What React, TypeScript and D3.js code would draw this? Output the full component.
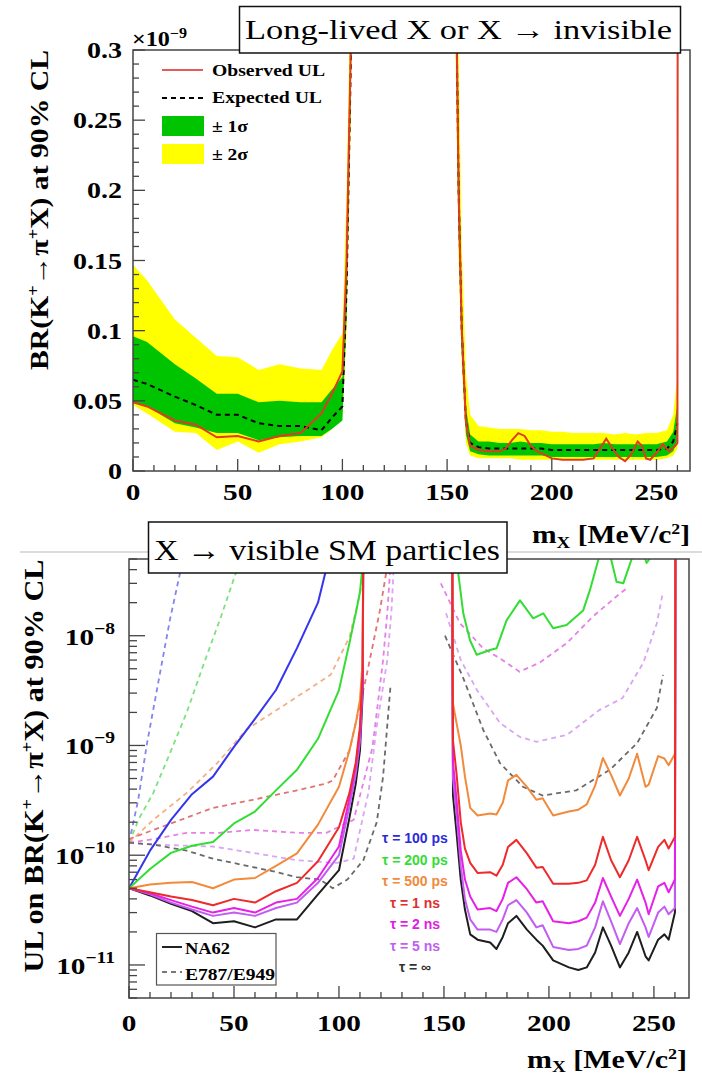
import React from 'react';
import * as d3 from 'd3';

// ================= TOP PANEL DATA (BR in units of 1e-9) =================
const topMassLeft = [0, 6.7, 20, 30, 40, 50, 60, 70, 80, 90, 95, 100, 102, 104, 106];
const yellowHiLeft = [0.147, 0.136, 0.108, 0.095, 0.082, 0.081, 0.072, 0.076, 0.073, 0.072, 0.086, 0.098, 0.2, 0.36, 0.8];
const greenHiLeft = [0.096, 0.092, 0.076, 0.066, 0.055, 0.055, 0.049, 0.05, 0.049, 0.049, 0.058, 0.067, 0.16, 0.31, 0.7];
const expectedLeft = [0.065, 0.062, 0.053, 0.047, 0.04, 0.04, 0.034, 0.032, 0.032, 0.029, 0.038, 0.046, 0.13, 0.29, 0.6];
const greenLoLeft = [0.049, 0.046, 0.034, 0.031, 0.027, 0.027, 0.022, 0.024, 0.025, 0.025, 0.03, 0.036, 0.11, 0.27, 0.55];
const yellowLoLeft = [0.047, 0.041, 0.028, 0.027, 0.015, 0.021, 0.013, 0.019, 0.021, 0.024, 0.03, 0.039, 0.1, 0.25, 0.5];
const observedLeft = [0.049, 0.046, 0.036, 0.033, 0.024, 0.025, 0.021, 0.025, 0.027, 0.041, 0.055, 0.071, 0.15, 0.3, 0.7];

const topMassRight = [154, 155.5, 157, 159, 161, 165, 170, 175, 180, 185, 190, 195, 200, 205, 210, 215, 220, 225, 230, 235, 240, 245, 250, 255, 258, 260];
const yellowHiRight = [0.5, 0.3, 0.16, 0.07, 0.04, 0.032, 0.031, 0.03, 0.03, 0.03, 0.029, 0.029, 0.028, 0.028, 0.027, 0.027, 0.027, 0.027, 0.026, 0.027, 0.026, 0.027, 0.027, 0.029, 0.04, 0.068];
const greenHiRight = [0.42, 0.24, 0.12, 0.045, 0.026, 0.021, 0.021, 0.02, 0.02, 0.021, 0.02, 0.02, 0.019, 0.019, 0.019, 0.019, 0.019, 0.02, 0.019, 0.019, 0.019, 0.019, 0.019, 0.021, 0.028, 0.048];
const expectedRight = [0.38, 0.2, 0.1, 0.035, 0.02, 0.017, 0.016, 0.016, 0.016, 0.016, 0.016, 0.016, 0.015, 0.015, 0.015, 0.015, 0.015, 0.015, 0.015, 0.015, 0.015, 0.015, 0.015, 0.016, 0.021, 0.034];
const greenLoRight = [0.34, 0.17, 0.085, 0.026, 0.014, 0.012, 0.011, 0.011, 0.011, 0.011, 0.011, 0.011, 0.01, 0.01, 0.01, 0.01, 0.01, 0.01, 0.01, 0.01, 0.01, 0.01, 0.01, 0.011, 0.014, 0.022];
const yellowLoRight = [0.3, 0.15, 0.075, 0.02, 0.011, 0.009, 0.009, 0.009, 0.009, 0.008, 0.008, 0.008, 0.008, 0.008, 0.008, 0.008, 0.008, 0.008, 0.008, 0.008, 0.008, 0.008, 0.008, 0.009, 0.011, 0.016];

const obsMassRight = [154, 155.5, 157, 159, 161, 165, 170, 175, 178, 181, 184, 187, 190, 193, 196, 200, 205, 210, 215, 220, 223, 226, 229, 232, 235, 238, 241, 243, 245, 247, 250, 253, 256, 259, 260, 260.2];
const observedRight = [0.38, 0.2, 0.1, 0.035, 0.018, 0.015, 0.014, 0.014, 0.016, 0.022, 0.027, 0.025, 0.018, 0.014, 0.012, 0.009, 0.008, 0.008, 0.008, 0.009, 0.016, 0.023, 0.016, 0.01, 0.007, 0.012, 0.021, 0.018, 0.009, 0.008, 0.013, 0.019, 0.014, 0.018, 0.02, 0.6];

const topXTicks = [0, 50, 100, 150, 200, 250];
const topYTicks = [0, 0.05, 0.1, 0.15, 0.2, 0.25, 0.3];
const topYLabels = ['0', '0.05', '0.1', '0.15', '0.2', '0.25', '0.3'];

// ================= BOTTOM PANEL DATA (UL on BR) =================
const solidMassLeft = [0, 10, 20, 30, 40, 50, 60, 70, 80, 90, 100, 105, 108, 110, 111.3, 111.8];
const tau100Left = [5e-11, 1.1e-10, 2.1e-10, 3.6e-10, 5.2e-10, 9.7e-10, 1.75e-9, 3.2e-9, 7.7e-9, 2.0e-8, 1.2e-7, 1e-6, 1e-6, 1e-6, 1e-6, 1e-6];
const tau200Left = [5e-11, 7.5e-11, 1.05e-10, 1.22e-10, 1.32e-10, 1.95e-10, 2.5e-10, 3.9e-10, 6.0e-10, 1.15e-9, 3.2e-9, 8.6e-9, 1.6e-8, 2.5e-8, 4.5e-8, 1e-6];
const tau500Left = [5e-11, 5.4e-11, 5.6e-11, 5.7e-11, 5.0e-11, 6.0e-11, 6.2e-11, 8.0e-11, 1.04e-10, 1.9e-10, 4.2e-10, 9e-10, 1.6e-9, 2.6e-9, 6e-9, 1e-6];
const tau1nsLeft = [5e-11, 4.6e-11, 4.2e-11, 3.9e-11, 3.5e-11, 4.0e-11, 3.7e-11, 4.7e-11, 5.6e-11, 8.8e-11, 1.8e-10, 3.7e-10, 7e-10, 1.5e-9, 5e-9, 1e-6];
const tau2nsLeft = [5e-11, 4.5e-11, 3.9e-11, 3.4e-11, 3.0e-11, 3.3e-11, 3.0e-11, 3.7e-11, 4.0e-11, 6.2e-11, 1.2e-10, 3.3e-10, 6.5e-10, 1.3e-9, 4e-9, 1e-6];
const tau5nsLeft = [5e-11, 4.4e-11, 3.7e-11, 3.2e-11, 2.8e-11, 3.0e-11, 2.8e-11, 3.3e-11, 3.7e-11, 5.6e-11, 1.0e-10, 2.8e-10, 5.5e-10, 1.1e-9, 3.5e-9, 1e-6];
const tauInfLeft = [5e-11, 4.3e-11, 3.6e-11, 3.1e-11, 2.4e-11, 2.5e-11, 2.2e-11, 2.6e-11, 2.6e-11, 4.4e-11, 7.3e-11, 2.2e-10, 4.5e-10, 9e-10, 3e-9, 1e-6];

const solidMassRight = [153.7, 154.3, 156, 158, 160, 162.5, 166, 172, 175, 178, 180.5, 184.5, 189.5, 194, 197, 202, 209.5, 214, 218, 222, 225.7, 229.6, 233.8, 238, 242, 246, 247.5, 252, 255, 257, 260, 260.3];
const tau500Right = [1e-6, 2.4e-9, 1.6e-9, 1.0e-9, 5.2e-10, 2.7e-10, 2.3e-10, 2.4e-10, 2.35e-10, 3.0e-10, 4.8e-10, 5.4e-10, 4.2e-10, 3.2e-10, 3.3e-10, 2.3e-10, 2.5e-10, 2.6e-10, 2.9e-10, 4.3e-10, 7.7e-10, 5.4e-10, 3.5e-10, 5.0e-10, 8.4e-10, 4.2e-10, 4.4e-10, 8.0e-10, 7.6e-10, 6.6e-10, 8.4e-10, 1e-6];
const tau1nsRight = [1e-6, 1.1e-9, 5.5e-10, 2.0e-10, 1.15e-10, 8.5e-11, 6.9e-11, 7.0e-11, 6.5e-11, 8.2e-11, 1.19e-10, 1.38e-10, 1.04e-10, 7.7e-11, 7.8e-11, 5.5e-11, 5.5e-11, 5.6e-11, 5.9e-11, 8.2e-11, 1.47e-10, 9.0e-11, 6.3e-11, 9.0e-11, 1.47e-10, 9.0e-11, 7.3e-11, 1.19e-10, 1.38e-10, 1.15e-10, 1.47e-10, 1e-6];
const tau2nsRight = [1e-6, 7e-10, 3.2e-10, 1.1e-10, 6e-11, 4.2e-11, 3.2e-11, 3.3e-11, 3.1e-11, 4.0e-11, 5.6e-11, 6.3e-11, 4.9e-11, 3.7e-11, 3.8e-11, 2.5e-11, 2.4e-11, 2.5e-11, 2.7e-11, 3.7e-11, 6.2e-11, 4.2e-11, 2.8e-11, 4.0e-11, 6.0e-11, 3.7e-11, 2.9e-11, 5.2e-11, 5.6e-11, 4.6e-11, 6.0e-11, 1e-6];
const tau5nsRight = [1e-6, 5e-10, 2.4e-10, 8e-11, 4e-11, 2.6e-11, 2.1e-11, 2.1e-11, 2.0e-11, 2.6e-11, 3.5e-11, 3.9e-11, 3.0e-11, 2.2e-11, 2.3e-11, 1.46e-11, 1.37e-11, 1.4e-11, 1.5e-11, 2.2e-11, 3.8e-11, 2.5e-11, 1.55e-11, 2.4e-11, 3.3e-11, 2.2e-11, 1.8e-11, 3.0e-11, 3.4e-11, 2.9e-11, 3.3e-11, 1e-6];
const tauInfRight = [1e-6, 3.5e-10, 1.6e-10, 6e-11, 3.2e-11, 1.9e-11, 1.7e-11, 1.6e-11, 1.4e-11, 1.8e-11, 2.4e-11, 2.8e-11, 2.1e-11, 1.7e-11, 1.5e-11, 1.1e-11, 9.5e-12, 9e-12, 9.5e-12, 1.3e-11, 2.2e-11, 1.5e-11, 9.5e-12, 1.3e-11, 2.0e-11, 1.2e-11, 1.1e-11, 1.7e-11, 1.9e-11, 1.7e-11, 3.0e-11, 1e-6];
const tau200MassRight = [154.5, 156, 159.2, 162.4, 165.6, 171.9, 175.1, 179.8, 186.2, 192.5, 197.3, 202, 208.4, 216.3, 219.5, 223.5, 227, 232.2, 235.4, 239.4, 242.5, 246.5, 248.5, 252];
const tau200Right = [1e-6, 4.9e-8, 1.6e-8, 9.1e-9, 6.7e-9, 7.4e-9, 7.7e-9, 1.38e-8, 2.1e-8, 1.44e-8, 1.6e-8, 1.17e-8, 1.25e-8, 1.7e-8, 2.6e-8, 4.9e-8, 8e-8, 3.1e-8, 3.0e-8, 5e-8, 8e-8, 4.6e-8, 5.2e-8, 1e-7];

const e949Tau100Mass = [0, 4.4, 8.4, 13, 19.5, 25, 28];
const e949Tau100 = [1.3e-10, 3.2e-10, 1.0e-9, 3.0e-9, 1.4e-8, 4.3e-8, 8e-8];
const e949Tau200Mass = [0, 5, 11.6, 19.5, 27.5, 35.4, 43.3, 52, 55];
const e949Tau200 = [1.3e-10, 2.2e-10, 3.7e-10, 8.5e-10, 2.0e-9, 5.4e-9, 1.4e-8, 4.3e-8, 7e-8];
const e949Tau500Mass = [0, 11.6, 27.5, 42, 56, 75, 96, 105, 110, 114];
const e949Tau500 = [1.3e-10, 2.1e-10, 3.7e-10, 6.9e-10, 1.4e-9, 2.4e-9, 4.4e-9, 9.7e-9, 2.4e-8, 7e-8];
const e949Tau1nsMass = [0, 11.6, 27.5, 40, 59, 80, 94, 97, 105, 113, 119.5, 123, 125];
const e949Tau1ns = [1.4e-10, 1.7e-10, 2.2e-10, 2.7e-10, 3.2e-10, 3.9e-10, 4.5e-10, 4.8e-10, 9e-10, 4.2e-9, 1.7e-8, 4.3e-8, 7e-8];
const e949Tau2nsMassLeft = [0, 11.6, 27.5, 43, 59, 80, 94, 107, 116, 121, 123, 125];
const e949Tau2nsLeft = [1.3e-10, 1.4e-10, 1.6e-10, 1.6e-10, 1.7e-10, 1.6e-10, 1.6e-10, 2.1e-10, 9.7e-10, 6e-9, 1.6e-8, 6e-8];
const e949Tau2nsMassRight = [148.5, 157.6, 168.6, 176.7, 186, 195.7, 208.6, 221, 232.4, 237];
const e949Tau2nsRight = [3e-8, 1.3e-8, 7.7e-9, 6.2e-9, 4.7e-9, 5.7e-9, 8.6e-9, 1.5e-8, 2.3e-8, 2.7e-8];
const e949Tau5nsMassLeft = [0, 11.6, 40, 59, 80, 99, 107, 114, 118, 123, 125, 126.5];
const e949Tau5nsLeft = [1.3e-10, 1.25e-10, 1.2e-10, 1.05e-10, 9e-11, 8.5e-11, 9.3e-11, 3.7e-10, 1.5e-9, 6e-9, 1.7e-8, 6e-8];
const e949Tau5nsMassRight = [151, 158, 165.7, 176.7, 186, 194, 208.6, 224, 235, 245, 251.4, 254.3];
const e949Tau5nsRight = [1.6e-8, 6e-9, 3.2e-9, 1.6e-9, 1.2e-9, 1.08e-9, 1.25e-9, 2.1e-9, 2.7e-9, 5.7e-9, 1.3e-8, 2.5e-8];
const e949TauInfMassLeft = [0, 11.6, 27.5, 40, 59, 70.5, 80, 91, 97, 104, 111.6, 118, 121, 124.5];
const e949TauInfLeft = [1.3e-10, 1.25e-10, 1.1e-10, 9.3e-11, 7.8e-11, 7e-11, 6.3e-11, 6e-11, 5e-11, 6e-11, 9e-11, 2e-10, 5.2e-10, 3.4e-9];
const e949TauInfMassRight = [150.5, 159, 168.6, 176.7, 187.6, 197, 213, 229, 242, 251.4, 254.3];
const e949TauInfRight = [1e-8, 4.2e-9, 1.4e-9, 6.9e-10, 4.2e-10, 3.5e-10, 3.9e-10, 6e-10, 1.05e-9, 2.2e-9, 4.4e-9];

const botXTicks = [0, 50, 100, 150, 200, 250];
const botYDecades = [-11, -10, -9, -8];
const tauLabels = ['τ = 100 ps', 'τ = 200 ps', 'τ = 500 ps', 'τ = 1 ns', 'τ = 2 ns', 'τ = 5 ns', 'τ = ∞'];

const C = {
  blue: '#3535ee', green: '#33dd33', orange: '#f28a3c', red: '#ee2a2a',
  magenta: '#e620e6', violet: '#c35cf2', black: '#1e1e1e',
  dBlue: '#8585ee', dGreen: '#80e080', dOrange: '#f3b088', dRed: '#e27373',
  dMagenta: '#e680e6', dViolet: '#d8a6f2', dBlack: '#6a6a6a',
};
const tauColors = ['#2b2bd9', '#33dd33', '#f08a3c', '#e03030', '#e020e0', '#c060f0', '#333333'];

const SERIF_B = "'Liberation Serif', 'Times New Roman', serif";
const TIMES = "'Liberation Serif', 'Times New Roman', serif";
const SANS = "'Liberation Sans', Arial, sans-serif";

function Lbl(props: { x: number; y: number; anchor: string; size: number; children: any }) {
  return (
    <text transform={`translate(${props.x},${props.y}) scale(1.22,1)`} textAnchor={props.anchor}
      fontFamily={SERIF_B} fontWeight="bold" fontSize={props.size}>{props.children}</text>
  );
}

export default function App() {
  const xT = d3.scaleLinear().domain([0, 266]).range([133, 690]);
  const yT = d3.scaleLinear().domain([0, 0.3]).range([471, 50]);
  const xB = d3.scaleLinear().domain([0, 266.7]).range([129, 689]);
  const yB = d3.scaleLog().domain([5e-12, 5e-8]).range([998, 559]);

  const lineT = (ms: number[], vs: number[]) =>
    d3.line<[number, number]>().x(d => xT(d[0])).y(d => yT(d[1]))(d3.zip(ms, vs) as any) || '';
  const areaT = (ms: number[], lo: number[], hi: number[]) =>
    d3.area<any>().x(d => xT(d[0])).y0(d => yT(d[1])).y1(d => yT(d[2]))(d3.zip(ms, lo, hi) as any) || '';
  const lineB = (ms: number[], vs: number[]) =>
    d3.line<[number, number]>().x(d => xB(d[0])).y(d => yB(d[1]))(d3.zip(ms, vs) as any) || '';

  const tT = { l: 133, r: 690, t: 50, b: 471 };
  const tB = { l: 129, r: 689, t: 559, b: 998 };

  const topMinorX = d3.range(0, 261, 10);
  const topMinorY = d3.range(0, 0.3001, 0.01);
  const botMinorX = d3.range(0, 261, 10);
  const botLogTicks = yB.ticks();

  const dashed = [
    { m: e949Tau100Mass, v: e949Tau100, c: C.dBlue },
    { m: e949Tau200Mass, v: e949Tau200, c: C.dGreen },
    { m: e949Tau500Mass, v: e949Tau500, c: C.dOrange },
    { m: e949Tau1nsMass, v: e949Tau1ns, c: C.dRed },
    { m: e949Tau2nsMassLeft, v: e949Tau2nsLeft, c: C.dMagenta },
    { m: e949Tau2nsMassRight, v: e949Tau2nsRight, c: C.dMagenta },
    { m: e949Tau5nsMassLeft, v: e949Tau5nsLeft, c: C.dViolet },
    { m: e949Tau5nsMassRight, v: e949Tau5nsRight, c: C.dViolet },
    { m: e949TauInfMassLeft, v: e949TauInfLeft, c: C.dBlack },
    { m: e949TauInfMassRight, v: e949TauInfRight, c: C.dBlack },
  ];
  const solids = [
    { m: solidMassLeft, v: tauInfLeft, c: C.black },
    { m: solidMassRight, v: tauInfRight, c: C.black },
    { m: solidMassLeft, v: tau5nsLeft, c: C.violet },
    { m: solidMassRight, v: tau5nsRight, c: C.violet },
    { m: solidMassLeft, v: tau2nsLeft, c: C.magenta },
    { m: solidMassRight, v: tau2nsRight, c: C.magenta },
    { m: solidMassLeft, v: tau100Left, c: C.blue },
    { m: solidMassLeft, v: tau200Left, c: C.green },
    { m: tau200MassRight, v: tau200Right, c: C.green },
    { m: solidMassLeft, v: tau500Left, c: C.orange },
    { m: solidMassRight, v: tau500Right, c: C.orange },
    { m: solidMassLeft, v: tau1nsLeft, c: C.red },
    { m: solidMassRight, v: tau1nsRight, c: C.red },
  ];

  const frame = '#444';

  return (
    <svg width={702} height={1077} style={{ position: 'absolute', left: 0, top: 0, background: '#fff' }}>
      <defs>
        <clipPath id="clipTop"><rect x={tT.l} y={tT.t} width={tT.r - tT.l} height={tT.b - tT.t} /></clipPath>
        <clipPath id="clipBot"><rect x={tB.l} y={tB.t} width={tB.r - tB.l} height={tB.b - tB.t} /></clipPath>
      </defs>
      <rect x={0} y={0} width={702} height={1077} fill="#fff" />

      {/* ================= TOP PANEL ================= */}
      <g clipPath="url(#clipTop)">
        <path d={areaT(topMassLeft, yellowLoLeft, yellowHiLeft)} fill="#ffff00" />
        <path d={areaT(topMassRight, yellowLoRight, yellowHiRight)} fill="#ffff00" />
        <path d={areaT(topMassLeft, greenLoLeft, greenHiLeft)} fill="#00c400" />
        <path d={areaT(topMassRight, greenLoRight, greenHiRight)} fill="#00c400" />
        <path d={lineT(topMassLeft, expectedLeft)} fill="none" stroke="#000" strokeWidth={2} strokeDasharray="5 4" />
        <path d={lineT(topMassRight, expectedRight)} fill="none" stroke="#000" strokeWidth={2} strokeDasharray="5 4" />
        <path d={lineT(topMassLeft, observedLeft)} fill="none" stroke="#e23a26" strokeWidth={2} />
        <path d={lineT(obsMassRight, observedRight)} fill="none" stroke="#e23a26" strokeWidth={2} />
      </g>
      <rect x={tT.l} y={tT.t} width={tT.r - tT.l} height={tT.b - tT.t} fill="none" stroke={frame} strokeWidth={1.5} />
      {topMinorX.map(v => (
        <line key={'tmx' + v} x1={xT(v)} x2={xT(v)} y1={tT.b} y2={tT.b - (v % 50 === 0 ? 12 : 6)} stroke={frame} strokeWidth={1.3} />
      ))}
      {topMinorY.map((v, i) => (
        <line key={'tmy' + i} x1={tT.l} x2={tT.l + (i % 5 === 0 ? 12 : 6)} y1={yT(v)} y2={yT(v)} stroke={frame} strokeWidth={1.3} />
      ))}
      {topXTicks.map(v => (
        <Lbl key={'txl' + v} x={xT(v)} y={500} anchor="middle" size={24}>{v}</Lbl>
      ))}
      {topYTicks.map((v, i) => (
        <Lbl key={'tyl' + v} x={122} y={yT(v) + 8} anchor="end" size={23}>{topYLabels[i]}</Lbl>
      ))}
      <text transform="translate(132,46) scale(1.15,1)" fontFamily={SERIF_B} fontWeight="bold" fontSize={21}>
        ×10<tspan dy={-8} fontSize={14}>−9</tspan>
      </text>
      <text transform="translate(48,210) rotate(-90)" textAnchor="middle" fontFamily={SERIF_B} fontWeight="bold" fontSize={26} textLength={320} lengthAdjust="spacingAndGlyphs">
        BR(K<tspan dy={-9} fontSize={16}>+</tspan><tspan dy={9}>→π</tspan><tspan dy={-9} fontSize={16}>+</tspan><tspan dy={9}>X) at 90% CL</tspan>
      </text>
      <text x={532} y={543} fontFamily={SERIF_B} fontWeight="bold" fontSize={25} textLength={158} lengthAdjust="spacingAndGlyphs">
        m<tspan dy={5} fontSize={16}>X</tspan><tspan dy={-5}> [MeV/c</tspan><tspan dy={-9} fontSize={15}>2</tspan><tspan dy={9}>]</tspan>
      </text>
      <rect x={239.5} y={6.5} width={441} height={46.5} fill="#fff" stroke="#111" strokeWidth={1.5} />
      <text x={245} y={39} fontFamily={TIMES} fontSize={27} textLength={427} lengthAdjust="spacingAndGlyphs">Long-lived X or X → invisible</text>
      <line x1={162} x2={203} y1={70} y2={70} stroke="#e85a5a" strokeWidth={2} />
      <text x={212} y={76} fontFamily={SERIF_B} fontWeight="bold" fontSize={16} textLength={113} lengthAdjust="spacingAndGlyphs">Observed UL</text>
      <line x1={162} x2={203} y1={98} y2={98} stroke="#000" strokeWidth={2} strokeDasharray="5 4" />
      <text x={212} y={103} fontFamily={SERIF_B} fontWeight="bold" fontSize={16} textLength={110} lengthAdjust="spacingAndGlyphs">Expected UL</text>
      <rect x={162} y={116} width={42} height={20} fill="#00c400" />
      <text x={212} y={132} fontFamily={SERIF_B} fontWeight="bold" fontSize={16} textLength={36} lengthAdjust="spacingAndGlyphs">± 1σ</text>
      <rect x={162} y={144} width={42} height={20} fill="#ffff00" />
      <text x={212} y={160} fontFamily={SERIF_B} fontWeight="bold" fontSize={16} textLength={36} lengthAdjust="spacingAndGlyphs">± 2σ</text>

      <line x1={20} x2={702} y1={552} y2={552} stroke="#cfcfcf" strokeWidth={1.5} />

      {/* ================= BOTTOM PANEL ================= */}
      <g clipPath="url(#clipBot)">
        {dashed.map((s, i) => (
          <path key={'d' + i} d={lineB(s.m, s.v)} fill="none" stroke={s.c} strokeWidth={1.8} strokeDasharray="5 4" />
        ))}
        {solids.map((s, i) => (
          <path key={'s' + i} d={lineB(s.m, s.v)} fill="none" stroke={s.c} strokeWidth={2} strokeLinejoin="round" />
        ))}
      </g>
      <rect x={tB.l} y={tB.t} width={tB.r - tB.l} height={tB.b - tB.t} fill="none" stroke={frame} strokeWidth={1.5} />
      {botMinorX.map(v => (
        <line key={'bmx' + v} x1={xB(v)} x2={xB(v)} y1={tB.b} y2={tB.b - (v % 50 === 0 ? 12 : 6)} stroke={frame} strokeWidth={1.3} />
      ))}
      {botLogTicks.map((v, i) => {
        const major = Math.abs(Math.log10(v) - Math.round(Math.log10(v))) < 1e-6;
        return <line key={'bly' + i} x1={tB.l} x2={tB.l + (major ? 16 : 8)} y1={yB(v)} y2={yB(v)} stroke={frame} strokeWidth={1.3} />;
      })}
      {botXTicks.map(v => (
        <Lbl key={'bxl' + v} x={xB(v)} y={1031} anchor="middle" size={24}>{v}</Lbl>
      ))}
      {botYDecades.map(e => (
        <Lbl key={'byl' + e} x={115} y={yB(Math.pow(10, e)) + 9} anchor="end" size={24}>
          10<tspan dy={-11} fontSize={16}>{'−' + Math.abs(e)}</tspan>
        </Lbl>
      ))}
      <text transform="translate(43,766) rotate(-90)" textAnchor="middle" fontFamily={SERIF_B} fontWeight="bold" fontSize={28} textLength={413} lengthAdjust="spacingAndGlyphs">
        UL on BR(K<tspan dy={-10} fontSize={17}>+</tspan><tspan dy={10}>→π</tspan><tspan dy={-10} fontSize={17}>+</tspan><tspan dy={10}>X) at 90% CL</tspan>
      </text>
      <text x={527} y={1068} fontFamily={SERIF_B} fontWeight="bold" fontSize={25} textLength={160} lengthAdjust="spacingAndGlyphs">
        m<tspan dy={4} fontSize={16}>X</tspan><tspan dy={-4}> [MeV/c</tspan><tspan dy={-9} fontSize={15}>2</tspan><tspan dy={9}>]</tspan>
      </text>
      <rect x={148.5} y={522} width={358.5} height={51} fill="#fff" stroke="#111" strokeWidth={1.5} />
      <text x={154} y={560} fontFamily={TIMES} fontSize={30} textLength={346} lengthAdjust="spacingAndGlyphs">X → visible SM particles</text>
      {tauLabels.map((t, i) => (
        <text key={'tau' + i} x={415} y={843 + i * 21.5} textAnchor="middle" fontFamily={SANS} fontWeight="bold" fontSize={14} fill={tauColors[i]}>{t}</text>
      ))}
      <rect x={156.5} y={933.5} width={119.5} height={51.5} fill="#fff" stroke="#555" strokeWidth={1.2} />
      <line x1={162} x2={182} y1={947} y2={947} stroke="#222" strokeWidth={2} />
      <text x={185} y={954} fontFamily={SERIF_B} fontWeight="bold" fontSize={16} textLength={45} lengthAdjust="spacingAndGlyphs">NA62</text>
      <line x1={162} x2={182} y1={972} y2={972} stroke="#777" strokeWidth={1.8} strokeDasharray="5 4" />
      <text x={185} y={980} fontFamily={SERIF_B} fontWeight="bold" fontSize={16} textLength={90} lengthAdjust="spacingAndGlyphs">E787/E949</text>
    </svg>
  );
}
